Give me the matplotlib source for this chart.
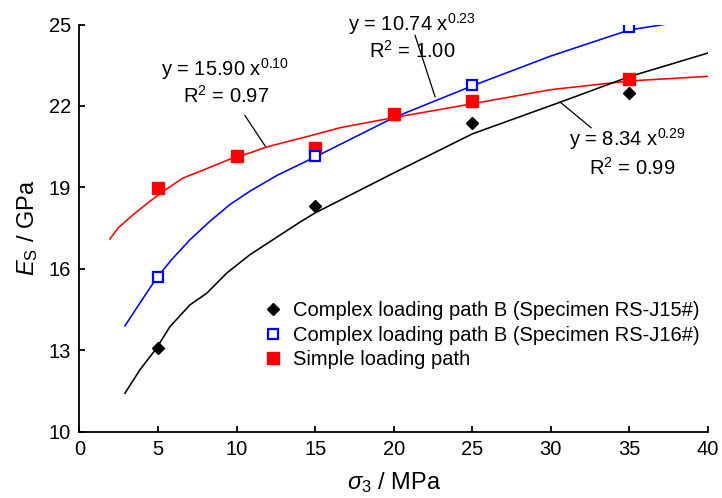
import matplotlib
matplotlib.use("Agg")
import matplotlib.pyplot as plt

plt.rcParams['font.family'] = ['Liberation Sans', 'DejaVu Sans']
plt.rcParams['mathtext.fontset'] = 'custom'
plt.rcParams['mathtext.rm'] = 'Liberation Sans'
plt.rcParams['mathtext.it'] = 'Liberation Sans:italic'
plt.rcParams['mathtext.bf'] = 'Liberation Sans:bold'

# ---- measured points ----
sigma_j15 = [5, 15, 25, 35]
es_j15 = [13.08, 18.3, 21.38, 22.47]
sigma_j16 = [5, 15, 25, 35]
es_j16 = [15.7, 20.17, 22.78, 24.9]
sigma_simple = [5, 10, 15, 20, 25, 35]
es_simple = [18.97, 20.15, 20.45, 21.7, 22.17, 22.98]

# ---- fitted curves ----
fit_j15_x = [2.9, 3.85, 4.91, 5.76, 7.03, 8.1, 9.37, 10.85, 12.6, 14.06, 15, 20, 25, 30.6, 35, 40]
fit_j15_y = [11.42, 12.28, 13.08, 13.87, 14.67, 15.1, 15.84, 16.52, 17.18, 17.73, 18.06, 19.53, 20.97, 22.14, 23.08, 23.95]
fit_j16_x = [2.9, 3.85, 4.91, 5.87, 7.03, 8.3, 9.58, 10.85, 12.6, 15, 20, 25, 30, 35, 37.2]
fit_j16_y = [13.9, 14.74, 15.66, 16.34, 17.07, 17.75, 18.37, 18.86, 19.45, 20.12, 21.57, 22.74, 23.84, 24.8, 25.0]
fit_simple_x = [1.94, 2.47, 3.43, 4.49, 5.55, 6.61, 7.67, 8.73, 9.79, 10.85, 11.87, 15, 16.6, 20, 25, 30, 35, 40]
fit_simple_y = [17.1, 17.51, 18.0, 18.49, 18.94, 19.35, 19.59, 19.84, 20.09, 20.27, 20.48, 20.95, 21.2, 21.57, 22.08, 22.6, 22.92, 23.09]

labels = ["Complex loading path B (Specimen RS-J15#)",
          "Complex loading path B (Specimen RS-J16#)",
          "Simple loading path"]
x_ticks = [0, 5, 10, 15, 20, 25, 30, 35, 40]
y_ticks = [10, 13, 16, 19, 22, 25]

fig = plt.figure(figsize=(7.22, 4.98), dpi=100)
ax = fig.add_axes([0.110, 0.1331, 0.8706, 0.8177])

lw = 1.15
ax.plot(fit_simple_x, fit_simple_y, color='#ff0000', lw=lw, zorder=2)
ax.plot(fit_j16_x, fit_j16_y, color='#0000ff', lw=lw, zorder=2)
ax.plot(fit_j15_x, fit_j15_y, color='black', lw=lw, zorder=2)

h1, = ax.plot(sigma_j15, es_j15, ls='none', marker='D', ms=6, color='black', zorder=4, label=labels[0])
h2, = ax.plot(sigma_j16, es_j16, ls='none', marker='s', ms=7, mfc='white', mec='#0000ff', mew=1.6, zorder=4, label=labels[1])
h3, = ax.plot(sigma_simple, es_simple, ls='none', marker='s', ms=8, color='#ff0000', zorder=3, label=labels[2])

ax.set_xlim(0, 40)
ax.set_ylim(10, 25)
ax.set_xticks(x_ticks)
ax.set_yticks(y_ticks)
for s in ['top', 'right']:
    ax.spines[s].set_visible(False)
for s in ['left', 'bottom']:
    ax.spines[s].set_linewidth(1.3)
ax.tick_params(direction='in', length=4.5, width=1.3, labelsize=14.5, pad=6)

ax.set_xlabel(r"$\sigma_3$ / MPa", fontsize=17, labelpad=8)
ax.set_ylabel(r"$E_\mathrm{S}$ / GPa", fontsize=17, labelpad=6)

fs = 14.5
# formula annotations
ax.text(9.26, 23.35, r"y = 15.90 x$^{0.10}$", fontsize=fs, ha='center', va='center')
ax.text(9.33, 22.39, r"R$^{2}$ = 0.97", fontsize=fs, ha='center', va='center')
ax.plot([10.53, 11.87], [21.65, 20.48], color='black', lw=0.9, zorder=1)

ax.text(21.15, 25.0, r"y = 10.74 x$^{0.23}$", fontsize=fs, ha='center', va='center', clip_on=False)
ax.text(21.2, 24.02, r"R$^{2}$ = 1.00", fontsize=fs, ha='center', va='center')
ax.plot([21.36, 22.63], [24.6, 22.34], color='black', lw=0.9, zorder=1)

ax.text(34.9, 20.77, r"y = 8.34 x$^{0.29}$", fontsize=fs, ha='center', va='center')
ax.text(35.17, 19.73, r"R$^{2}$ = 0.99", fontsize=fs, ha='center', va='center')
ax.plot([30.59, 32.56], [22.14, 21.2], color='black', lw=0.9, zorder=1)

leg = fig.legend(handles=[h1, h2, h3], loc='upper left',
                 bbox_to_anchor=(266.7 / 722, 1 - 301 / 498),
                 frameon=False, fontsize=fs, handlelength=0.6,
                 handletextpad=0.7, labelspacing=0.28, borderpad=0,
                 borderaxespad=0)

fig.savefig("out.png", dpi=100)
